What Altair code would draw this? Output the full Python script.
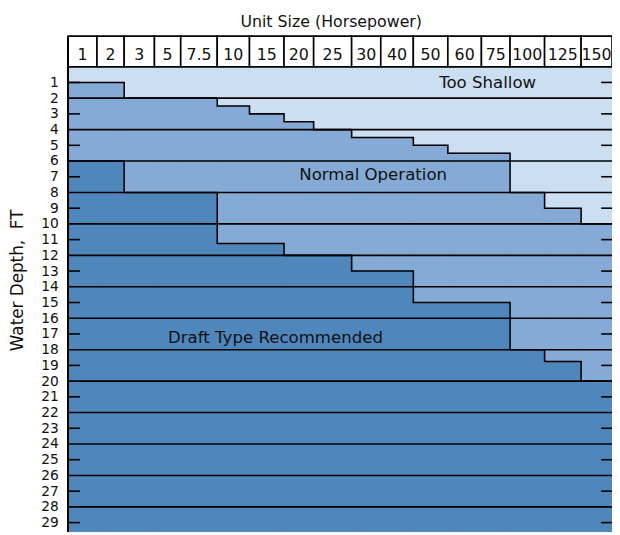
import altair as alt
import pandas as pd

# ---------------- data ----------------
unit_sizes = ["1", "2", "3", "5", "7.5", "10", "15", "20", "25", "30",
              "40", "50", "60", "75", "100", "125", "150"]
# depth (ft) where normal operation starts (above = too shallow)
normal_from = [1, 1, 2, 2, 2, 2.5, 3, 3.5, 4, 4.5, 4.5, 5, 5.5, 5.5, 8, 9, 10]
# depth (ft) where draft type becomes recommended
draft_from = [6, 6, 8, 8, 8, 11.25, 11.25, 12, 12, 13, 13, 15, 15, 15, 18, 18.75, 20]
depth_labels = list(range(1, 30))
grid_depths = list(range(0, 30, 2))
tick_depths = list(range(1, 30, 2))
regions = ["Too Shallow", "Normal Operation", "Draft Type Recommended"]
region_label_x = [425, 309, 210]
region_label_depth = [1.05, 6.9, 17.25]

# ---------------- layout / style ----------------
col_widths = [29.2, 27.5, 30.7, 26.6, 37, 32.7, 35, 30, 38.5, 29.5,
              33, 35, 34, 29, 35, 37, 31.3]
colors = ["#CCDEF2", "#84AAD5", "#4F86BC"]
FONT = "DejaVu Sans"
TXT = "#111111"
W = 551
H = 471
DMAX = 29.57
LW = 1.6

edges = [0.0]
for w in col_widths:
    edges.append(edges[-1] + w)

rows = []
for i, u in enumerate(unit_sizes):
    b = [0, normal_from[i], draft_from[i], DMAX]
    for r in range(3):
        rows.append(dict(unit=u, x0=edges[i], x1=edges[i + 1],
                         d0=b[r], d1=b[r + 1], region=regions[r]))
rect_df = pd.DataFrame(rows)

line_rows = []
k = 0
for name, vals in (("upper", normal_from), ("lower", draft_from)):
    for i in range(len(unit_sizes)):
        line_rows.append(dict(boundary=name, order=k, x=edges[i], d=vals[i])); k += 1
        line_rows.append(dict(boundary=name, order=k, x=edges[i + 1], d=vals[i])); k += 1
line_df = pd.DataFrame(line_rows)

head_df = pd.DataFrame(dict(unit=unit_sizes, x0=edges[:-1], x1=edges[1:],
                            xc=[(a + b) / 2 for a, b in zip(edges[:-1], edges[1:])]))
grid_df = pd.DataFrame(dict(d=grid_depths))
tick_df = pd.DataFrame(dict(d=tick_depths))
lab_df = pd.DataFrame(dict(label=regions, x=region_label_x, d=region_label_depth))

xscale = alt.Scale(domain=[0, W], nice=False, zero=False)
yscale = alt.Scale(domain=[0, DMAX], nice=False, zero=False, reverse=True)
xaxis = alt.Axis(orient="top", labels=False, ticks=False, domain=False, grid=False,
                 title="Unit Size (Horsepower)", titleFont=FONT, titleFontSize=16,
                 titleFontWeight="normal", titleColor=TXT, titleY=-41, titleX=266,
                 titleBaseline="alphabetic")
yaxis = alt.Axis(values=depth_labels, ticks=False, tickSize=0, domain=False, grid=False,
                 labelPadding=10, labelFont=FONT, labelFontSize=14, labelColor=TXT,
                 labelOverlap=False, labelFlush=False,
                 title="Water Depth,\u00a0 FT", titleFont=FONT, titleFontSize=17,
                 titleFontWeight="normal", titleColor=TXT, titleY=216, titlePadding=14)


def xe(f):
    return alt.X(f, type="quantitative", scale=xscale, axis=xaxis)


def ye(f):
    return alt.Y(f, type="quantitative", scale=yscale, axis=yaxis)


region_scale = alt.Scale(domain=regions, range=colors)
areas = alt.Chart(rect_df).mark_rect(strokeWidth=1).encode(
    x=xe("x0"), x2="x1", y=ye("d0"), y2="d1",
    color=alt.Color("region:N", scale=region_scale, legend=None),
    stroke=alt.Stroke("region:N", scale=region_scale, legend=None),
)

outlines = alt.Chart(line_df).mark_line(color="black", strokeWidth=LW).encode(
    x=xe("x"), y=ye("d"), detail="boundary:N", order="order:Q"
)

grid = alt.Chart(grid_df).mark_rule(color="black", strokeWidth=LW).encode(
    y=ye("d"), x=alt.value(0), x2=alt.value(W)
)

lticks = alt.Chart(tick_df).mark_rule(color="black", strokeWidth=LW).encode(
    y=ye("d"), x=alt.value(0), x2=alt.value(12)
)
rticks = alt.Chart(tick_df).mark_rule(color="black", strokeWidth=LW).encode(
    y=ye("d"), x=alt.value(W - 11), x2=alt.value(W)
)

border = alt.Chart(grid_df).mark_rule(color="black", strokeWidth=LW).encode(
    x=alt.value(0), y=alt.value(-31), y2=alt.value(H)
)

head_box = alt.Chart(head_df).mark_rect(fill="white", stroke="black", strokeWidth=LW).encode(
    x=xe("x0"), x2="x1", y=alt.value(-31), y2=alt.value(0)
)
head_txt = alt.Chart(head_df).mark_text(font=FONT, fontSize=16, color=TXT,
                                        baseline="alphabetic", align="center").encode(
    x=xe("xc"), y=alt.value(-7), text="unit:N"
)

labels = alt.Chart(lab_df).mark_text(font=FONT, fontSize=16.8, color=TXT,
                                     baseline="middle", align="center").encode(
    x=xe("x"), y=ye("d"), text="label:N"
)

chart = alt.layer(
    areas, outlines, grid, lticks, rticks, border, head_box, head_txt, labels
).properties(
    width=W, height=H,
    autosize=alt.AutoSizeParams(type="none"),
    padding={"left": 61, "top": 56, "right": 0, "bottom": 0},
).configure_view(stroke=None)

chart.save("out.html", embed_options={"renderer": "svg", "actions": False})
